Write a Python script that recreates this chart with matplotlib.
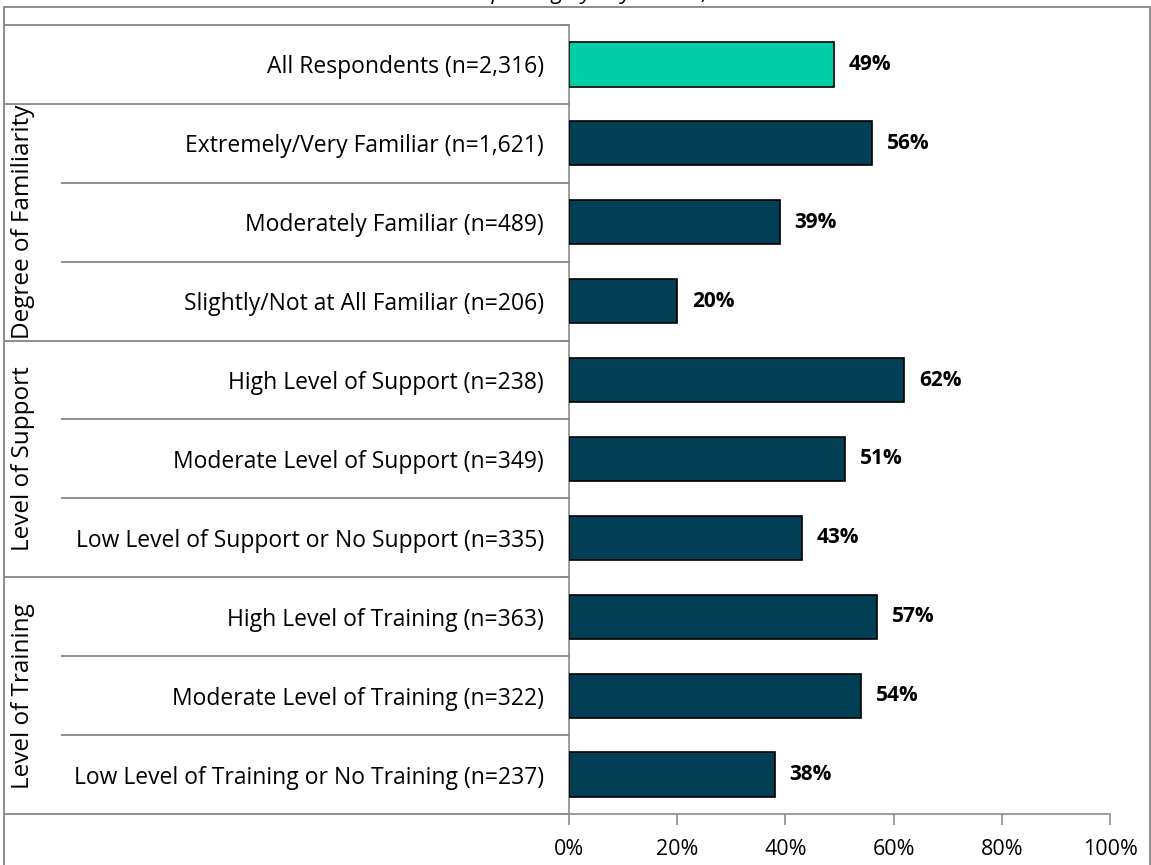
import matplotlib
matplotlib.use("Agg")
import matplotlib.pyplot as plt
from matplotlib.transforms import blended_transform_factory
from matplotlib.lines import Line2D
from matplotlib.patches import Rectangle

# ---------------- data ----------------
categories = [
    "All Respondents (n=2,316)",
    "Extremely/Very Familiar (n=1,621)",
    "Moderately Familiar (n=489)",
    "Slightly/Not at All Familiar (n=206)",
    "High Level of Support (n=238)",
    "Moderate Level of Support (n=349)",
    "Low Level of Support or No Support (n=335)",
    "High Level of Training (n=363)",
    "Moderate Level of Training (n=322)",
    "Low Level of Training or No Training (n=237)",
]
values = [49, 56, 39, 20, 62, 51, 43, 57, 54, 38]
groups = ["Degree of Familiarity", "Level of Support", "Level of Training"]
group_rows = [(1, 3), (4, 6), (7, 9)]
x_ticks = [0, 20, 40, 60, 80, 100]
x_tick_labels = ["0%", "20%", "40%", "60%", "80%", "100%"]
title = "Percent Reporting by Key Subset, 2016"

FONT = "Open Sans"
W, H = 1151, 865
fig = plt.figure(figsize=(W / 100, H / 100), dpi=100)

def fx(px):
    return px / W

def fy(py):
    return 1 - py / H

ax_left, ax_right, ax_top, ax_bottom = 569, 1110, 25, 814
ax = fig.add_axes([fx(ax_left), fy(ax_bottom), fx(ax_right - ax_left), (ax_bottom - ax_top) / H])

green = "#00CFA8"
navy = "#023E54"
grid_gray = "#8C8C8C"

n = len(categories)
ypos = list(range(n))
colors = [green] + [navy] * (n - 1)
ax.barh(ypos, values, height=0.56, color=colors, edgecolor="black", linewidth=1.2, zorder=3)
for y, v in zip(ypos, values):
    ax.text(v + 2.7, y, f"{v}%", va="center", ha="left", fontsize=15,
            fontweight="bold", family=FONT, zorder=4)

ax.set_xlim(0, 100)
ax.set_ylim(n - 0.5, -0.5)
ax.set_xticks(x_ticks)
ax.set_xticklabels(x_tick_labels, fontsize=15.5, family=FONT)
ax.set_yticks(ypos)
ax.set_yticklabels(categories, fontsize=16.5, family=FONT)
ax.tick_params(axis="y", length=0, pad=18)
ax.tick_params(axis="x", length=8, width=1.2, color=grid_gray, pad=10, direction="out")
for s in ["top", "right"]:
    ax.spines[s].set_visible(False)
ax.spines["left"].set_color(grid_gray)
ax.spines["left"].set_linewidth(1.2)
ax.spines["bottom"].set_color(grid_gray)
ax.spines["bottom"].set_linewidth(1.2)

# table lines on the left
tr = blended_transform_factory(fig.transFigure, ax.transData)
lw = 1.4
full_bounds = [-0.5, 0.5, 3.5, 6.5, 9.5]
for b in full_bounds:
    fig.add_artist(Line2D([fx(4), fx(ax_left)], [b, b], transform=tr, color=grid_gray, lw=lw))
for g0, g1 in group_rows:
    for b in range(g0, g1):
        bb = b + 0.5
        fig.add_artist(Line2D([fx(62), fx(ax_left)], [bb, bb], transform=tr, color=grid_gray, lw=lw))
for b in full_bounds:
    fig.add_artist(Line2D([fx(ax_left - 5), fx(ax_left)], [b, b], transform=tr, color=grid_gray, lw=lw))

# group labels
for gname, (g0, g1) in zip(groups, group_rows):
    yc = (g0 + g1) / 2
    fig.text(fx(23), yc, gname, rotation=90, va="center", ha="center",
             fontsize=17.5, family=FONT, transform=tr)

# outer frame
fig.add_artist(Rectangle((fx(4), fy(H + 5)), fx(W - 5), (H + 5 - 7) / H,
                         transform=fig.transFigure, fill=False,
                         edgecolor=grid_gray, lw=lw))

# title cut off at the top edge, as in the original (only descenders visible)
fig.text(0.5, fy(-1), title, ha="center", va="baseline", fontsize=16,
         family=FONT, style="italic")

fig.savefig("out.png", dpi=100)
